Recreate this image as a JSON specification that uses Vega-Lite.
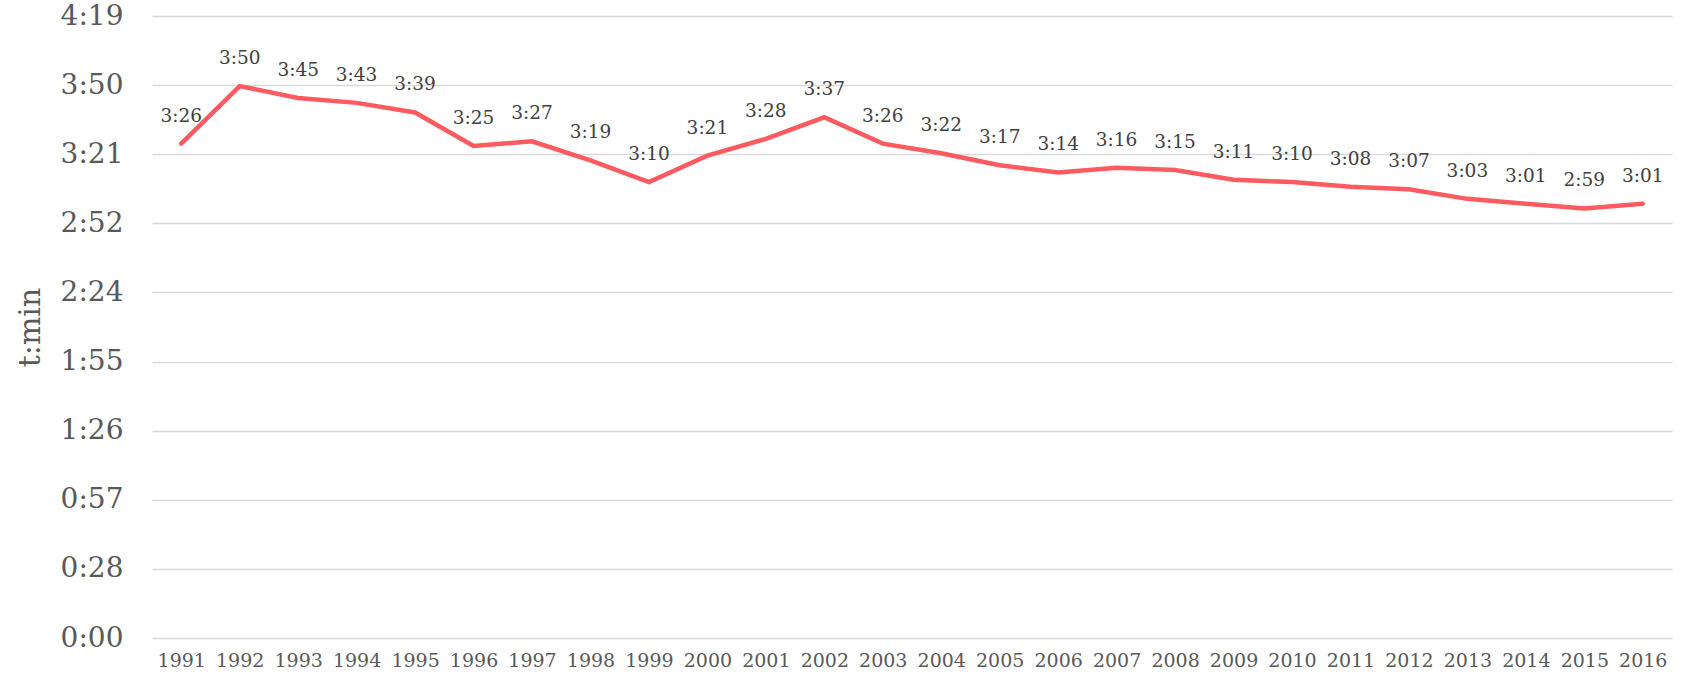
{
  "$schema": "https://vega.github.io/schema/vega-lite/v6.json",
  "width": 1520,
  "height": 622,
  "autosize": {"type": "none"},
  "padding": {"left": 152, "top": 16, "right": 14, "bottom": 44},
  "background": "white",
  "config": {
    "view": {"stroke": null},
    "font": "DejaVu Serif"
  },
  "data": {
    "values": [
      {"year": "1991", "sec": 206, "label": "3:26"},
      {"year": "1992", "sec": 230, "label": "3:50"},
      {"year": "1993", "sec": 225, "label": "3:45"},
      {"year": "1994", "sec": 223, "label": "3:43"},
      {"year": "1995", "sec": 219, "label": "3:39"},
      {"year": "1996", "sec": 205, "label": "3:25"},
      {"year": "1997", "sec": 207, "label": "3:27"},
      {"year": "1998", "sec": 199, "label": "3:19"},
      {"year": "1999", "sec": 190, "label": "3:10"},
      {"year": "2000", "sec": 201, "label": "3:21"},
      {"year": "2001", "sec": 208, "label": "3:28"},
      {"year": "2002", "sec": 217, "label": "3:37"},
      {"year": "2003", "sec": 206, "label": "3:26"},
      {"year": "2004", "sec": 202, "label": "3:22"},
      {"year": "2005", "sec": 197, "label": "3:17"},
      {"year": "2006", "sec": 194, "label": "3:14"},
      {"year": "2007", "sec": 196, "label": "3:16"},
      {"year": "2008", "sec": 195, "label": "3:15"},
      {"year": "2009", "sec": 191, "label": "3:11"},
      {"year": "2010", "sec": 190, "label": "3:10"},
      {"year": "2011", "sec": 188, "label": "3:08"},
      {"year": "2012", "sec": 187, "label": "3:07"},
      {"year": "2013", "sec": 183, "label": "3:03"},
      {"year": "2014", "sec": 181, "label": "3:01"},
      {"year": "2015", "sec": 179, "label": "2:59"},
      {"year": "2016", "sec": 181, "label": "3:01"}
    ]
  },
  "encoding": {
    "x": {
      "field": "year",
      "type": "ordinal",
      "scale": {"type": "point", "padding": 0.5},
      "axis": {
        "title": null,
        "labelAngle": 0,
        "domain": false,
        "ticks": false,
        "labelFontSize": 19,
        "labelColor": "#595959",
        "labelPadding": 13,
        "labelFont": "DejaVu Serif"
      }
    },
    "y": {
      "field": "sec",
      "type": "quantitative",
      "scale": {"domain": [0, 259.2], "nice": false, "zero": true},
      "axis": {
        "title": "t:min",
        "titleFontSize": 30,
        "titleFontWeight": "normal",
        "titleColor": "#595959",
        "titleFont": "DejaVu Serif",
        "titleX": -122,
        "titleAngle": -90,
        "titleBaseline": "middle",
        "values": [0, 28.8, 57.6, 86.4, 115.2, 144, 172.8, 201.6, 230.4, 259.2],
        "labelExpr": "floor(datum.value/60) + ':' + (floor(datum.value%60 + 0.0001) < 10 ? '0' : '') + floor(datum.value%60 + 0.0001)",
        "domain": false,
        "ticks": false,
        "grid": true,
        "gridColor": "#d9d9d9",
        "gridWidth": 1.3,
        "labelFontSize": 28,
        "labelColor": "#595959",
        "labelPadding": 29,
        "labelFont": "DejaVu Serif"
      }
    }
  },
  "layer": [
    {
      "mark": {"type": "line", "color": "#ff5a5f", "strokeWidth": 4.5, "strokeCap": "round"}
    },
    {
      "mark": {"type": "text", "fontSize": 18.5, "color": "#404040", "dy": -22, "baseline": "alphabetic", "font": "DejaVu Serif"},
      "encoding": {"text": {"field": "label"}}
    }
  ]
}
